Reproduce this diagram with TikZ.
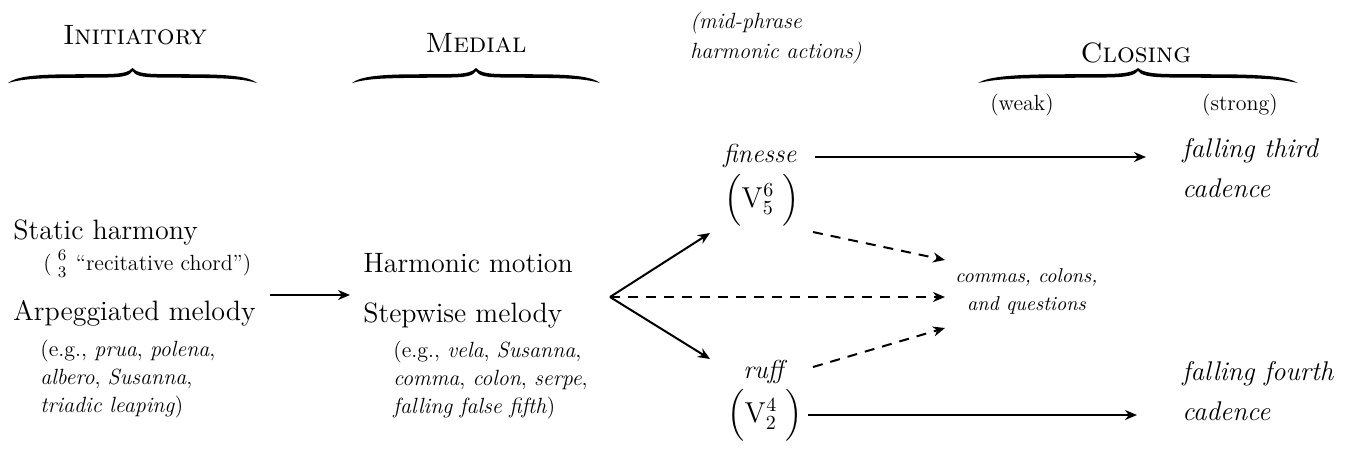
\documentclass[tikz,border=0pt]{standalone}
\usepackage{amsmath}
\usepackage{tikz}
\usetikzlibrary{positioning,arrows.meta}
\newcommand{\bracepath}{(0,0) .. controls (0.03,-6) and (0.1,-8.5) .. (0.24,-8.7) -- (0.4,-9) .. controls (0.46,-9.2) and (0.485,-11) .. (0.5,-15) .. controls (0.515,-11) and (0.54,-9.2) .. (0.6,-9) -- (0.76,-8.7) .. controls (0.9,-8.5) and (0.97,-6) .. (1,0) .. controls (0.95,-3.5) and (0.9,-4.8) .. (0.76,-5.1) -- (0.6,-5.5) .. controls (0.53,-5.7) and (0.51,-8) .. (0.5,-12) .. controls (0.49,-8) and (0.47,-5.7) .. (0.4,-5.5) -- (0.24,-5.1) .. controls (0.1,-4.8) and (0.05,-3.5) .. (0,0) -- cycle}
\newcommand{\headfont}{\fontsize{14}{17}\selectfont\scshape}
\newcommand{\bodyfont}{\fontsize{14}{18}\selectfont}
\newcommand{\notefont}{\fontsize{11}{14}\selectfont}

\begin{document}
\begin{tikzpicture}[x=0.5pt,y=-0.5pt,
  txt/.style={inner sep=0pt,anchor=base west},
  arr/.style={line width=1pt,-{Stealth[length=6pt,width=5pt]}},
  darr/.style={arr,dash pattern=on 5pt off 4pt}]
\useasboundingbox (0,0) rectangle (1346,468);

% headings and braces
\node[inner sep=0pt,anchor=base,font=\headfont] (initH) at (135,44) {Initiatory};
\node[inner sep=0pt,anchor=base,font=\headfont] (medH) at (476,52) {Medial};
\node[inner sep=0pt,anchor=base,font=\headfont] (closH) at (1136,62) {Closing};
\begin{scope}[shift={(8,83)},xscale=249]
\fill \bracepath;
\end{scope}
\begin{scope}[shift={(352,83)},xscale=248]
\fill \bracepath;
\end{scope}
\begin{scope}[shift={(978,83)},xscale=320]
\fill \bracepath;
\end{scope}
\node[inner sep=0pt,anchor=base,font=\notefont] (weak) at (1022,110) {(weak)};
\node[inner sep=0pt,anchor=base,font=\notefont] (strong) at (1240,110) {(strong)};
\node[txt,align=left,font=\fontsize{11}{15}\selectfont\itshape] (midphr) at (690,58) {(mid-phrase\\ harmonic actions)};

% initiatory column
\node[txt,font=\bodyfont] (static) at (13,239) {Static harmony};
\node[txt,font=\notefont] (recit) at (43,270) {(\,$\genfrac{}{}{0pt}{1}{6}{3}$\ “recitative chord”)};
\node[txt,font=\bodyfont] (arp) at (13,320) {Arpeggiated melody};
\node[txt,align=left,font=\notefont] (arpeg) at (40,412) {(e.g., \textit{prua}, \textit{polena},\\ \textit{albero}, \textit{Susanna},\\ \textit{triadic leaping})};

% medial column
\node[txt,font=\bodyfont] (harm) at (363,272) {Harmonic motion};
\node[txt,font=\bodyfont] (step) at (363,322) {Stepwise melody};
\node[txt,align=left,font=\notefont] (stepeg) at (393,413) {(e.g., \textit{vela}, \textit{Susanna},\\ \textit{comma}, \textit{colon}, \textit{serpe},\\ \textit{falling false fifth})};

% mid-phrase actions
\node[txt,font=\fontsize{13}{16}\selectfont\itshape] (finesse) at (723,162) {finesse};
\node[inner sep=0pt,font=\bodyfont] (v65) at (762,200) {$\Bigl(\mathrm{V}^{6}_{5}\;\Bigr)$};
\node[txt,font=\fontsize{13}{16}\selectfont\itshape] (ruff) at (743,378) {ruff};
\node[inner sep=0pt,font=\bodyfont] (v42) at (765,415) {$\Bigl(\mathrm{V}^{4}_{2}\;\Bigr)$};
\node[txt,align=center,font=\fontsize{10}{14}\selectfont\itshape] (commas) at (955,310) {commas, colons,\\ and questions};

% closing
\node[txt,align=left,font=\fontsize{13.5}{20}\selectfont\itshape] (third) at (1182,197) {falling third\\ cadence};
\node[txt,align=left,font=\fontsize{13.5}{20}\selectfont\itshape] (fourth) at (1182,420) {falling fourth\\ cadence};

% connectors
\coordinate (initR) at (270,295);
\coordinate (medL) at (350,295);
\coordinate (fan) at (610,297);
\coordinate (upE) at (710,233);
\coordinate (lowE) at (710,359);
\coordinate (dUs) at (813,232);
\coordinate (dUe) at (945,260);
\coordinate (dMe) at (945,297);
\coordinate (dLs) at (813,367);
\coordinate (dLe) at (945,328);
\coordinate (finR) at (815,157);
\coordinate (thirdL) at (1146,157);
\coordinate (v42R) at (808,415);
\coordinate (fourthL) at (1137,415);

\draw[arr] (initR) -- (medL);
\draw[arr] (fan) -- (upE);
\draw[arr] (fan) -- (lowE);
\draw[darr] (fan) -- (dMe);
\draw[darr] (dUs) -- (dUe);
\draw[darr] (dLs) -- (dLe);
\draw[arr] (finR) -- (thirdL);
\draw[arr] (v42R) -- (fourthL);
\end{tikzpicture}
\end{document}
